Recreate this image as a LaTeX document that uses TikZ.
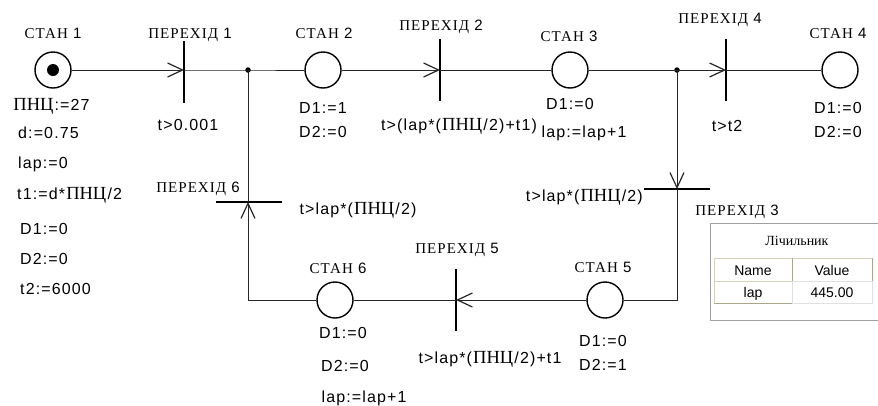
\documentclass[tikz,border=0pt]{standalone}
\usepackage{fontspec}
\setmainfont{Liberation Sans}
\newfontfamily\sansls[LetterSpace=7]{Liberation Sans}
\newfontfamily\serifls[LetterSpace=7]{Liberation Serif}
\newfontfamily\serifpl{Liberation Serif}
\usetikzlibrary{arrows.meta}
\newcommand\exf{\sansls\fontsize{16}{18}\selectfont}
\newcommand\pnc{\hspace{1.2pt}{\serifpl\fontsize{18.5}{19}\selectfont ПНЦ}\hspace{1.2pt}}
\newcommand\lbltxt[2]{{\serifls\fontsize{15}{17}\selectfont #1}{\sansls\fontsize{15}{17}\selectfont\ #2}}
\definecolor{tbeige}{RGB}{214,210,190}
\definecolor{tdark}{RGB}{170,165,140}
\definecolor{tgray}{RGB}{160,160,160}
\begin{document}
\begin{tikzpicture}[x=1pt,y=-1pt,
  place/.style={circle,draw,line width=1.4pt,minimum size=36pt,inner sep=0pt},
  vbar/.style={rectangle,fill=black,minimum width=2.4pt,minimum height=62pt,inner sep=0pt},
  hbar/.style={rectangle,fill=black,minimum width=66pt,minimum height=2.4pt,inner sep=0pt},
  jdot/.style={circle,fill=black,minimum size=5.5pt,inner sep=0pt},
  arc/.style={draw=black!85,line width=0.9pt},
  tipd/.style={-{Straight Barb[length=15pt,width=14pt,line width=1.2pt]}},
  txt/.style={inner sep=0pt,anchor=base,font=\exf},
  txtl/.style={inner sep=0pt,anchor=base west,font=\exf},
  lab/.style={inner sep=0pt,anchor=base}]
\useasboundingbox[fill=white] (0,0) rectangle (878,405);
% places
\node[place] (s1) at (53,70) {};
\node[circle,fill=black,minimum size=12pt,inner sep=0pt] (s1dot) at (s1) {};
\node[place] (s2) at (323,70) {};
\node[place] (s3) at (570,70) {};
\node[place] (s4) at (840,70) {};
\node[place] (s5) at (605,300) {};
\node[place] (s6) at (335,300) {};
% transitions
\node[vbar] (t1) at (184,72) {};
\node[vbar] (t2) at (440,70) {};
\node[vbar] (t4) at (726,70) {};
\node[vbar] (t5) at (456,300) {};
\node[hbar] (t6) at (249,202) {};
\node[hbar] (t3) at (677,189) {};
% junctions
\node[jdot] (j1) at (248,70) {};
\node[jdot] (j2) at (677,70) {};
\coordinate (c6) at (248,300);
\coordinate (c5) at (677,300);
% connectors
\draw[arc,tipd] (s1) -- (t1.center |- s1);
\draw[arc] (t1.center |- s1) -- (j1.center) -- (s2);
\draw[arc,tipd] (s2) -- (t2.center);
\draw[arc] (t2.center) -- (s3);
\draw[arc] (s3) -- (j2.center);
\draw[arc,tipd] (j2.center) -- (t4.center);
\draw[arc] (t4.center) -- (s4);
\draw[arc,tipd] (j2.center) -- (t3.center -| j2);
\draw[arc] (t3.center -| j2) -- (c5) -- (s5);
\draw[arc,tipd] (s5) -- (t5.center);
\draw[arc] (t5.center) -- (s6);
\draw[arc,tipd] (s6) -- (c6) -- (t6.center -| j1);
\draw[arc] (t6.center -| j1) -- (j1.center);
% labels
\node[lab] (ls1) at (53,38) {\lbltxt{СТАН}{1}};
\node[lab] (lt1) at (190,38) {\lbltxt{ПЕРЕХІД}{1}};
\node[lab] (ls2) at (324,38) {\lbltxt{СТАН}{2}};
\node[lab] (lt2) at (441,30) {\lbltxt{ПЕРЕХІД}{2}};
\node[lab] (ls3) at (569,41) {\lbltxt{СТАН}{3}};
\node[lab] (lt4) at (720,23) {\lbltxt{ПЕРЕХІД}{4}};
\node[lab] (ls4) at (838,38) {\lbltxt{СТАН}{4}};
\node[lab] (lt6) at (198,192) {\lbltxt{ПЕРЕХІД}{6}};
\node[lab] (lt3) at (737,215) {\lbltxt{ПЕРЕХІД}{3}};
\node[lab] (lt5) at (457,253) {\lbltxt{ПЕРЕХІД}{5}};
\node[lab] (ls6) at (338,273) {\lbltxt{СТАН}{6}};
\node[lab] (ls5) at (603,272) {\lbltxt{СТАН}{5}};
% initial values
\node[txtl] (i1) at (12,110) {\pnc:=27};
\node[txtl] (i2) at (18,138) {d:=0.75};
\node[txtl] (i3) at (18,168) {lap:=0};
\node[txtl] (i4) at (17,199) {t1:=d*\pnc/2};
\node[txtl] (i5) at (20,234) {D1:=0};
\node[txtl] (i6) at (20,264) {D2:=0};
\node[txtl] (i7) at (20,294) {t2:=6000};
% guards and actions
\node[txt] (g1) at (188,130) {t>0.001};
\node[txt] (a21) at (323,113) {D1:=1};
\node[txt] (a22) at (323,137) {D2:=0};
\node[txt] (g2) at (459,130) {t>(lap*(\pnc/2)+t1)};
\node[txt] (a31) at (570,109) {D1:=0};
\node[txt] (a32) at (584,137) {lap:=lap+1};
\node[txt] (g4) at (727,131) {t>t2};
\node[txt] (a41) at (838,113) {D1:=0};
\node[txt] (a42) at (838,137) {D2:=0};
\node[txt] (g6) at (358,214) {t>lap*(\pnc/2)};
\node[inner sep=0pt,anchor=base east,font=\exf] (g3) at (643,201) {t>lap*(\pnc/2)};
\node[txt] (g5) at (490,363) {t>lap*(\pnc/2)+t1};
\node[txt] (a61) at (343,338) {D1:=0};
\node[txt] (a62) at (345,371) {D2:=0};
\node[txt] (a63) at (364,402) {lap:=lap+1};
\node[txt] (a51) at (603,346) {D1:=0};
\node[txt] (a52) at (603,370) {D2:=1};
% counter table
\draw[tgray,line width=0.9pt] (879,223) -- (710,223) -- (710,320) -- (879,320);
\node[inner sep=0pt,anchor=base] (ttl) at (797,245) {\serifpl\fontsize{14}{15}\selectfont Лічильник};
\draw[tbeige,line width=0.8pt] (714,258) rectangle (792,281);
\draw[tbeige,line width=0.8pt] (792,258) rectangle (872,281);
\draw[tdark,line width=0.8pt] (714,281) -- (872,281);
\draw[tdark,line width=0.8pt] (792,258) -- (792,281);
\draw[tdark,line width=0.8pt] (872,258) -- (872,281);
\draw[tbeige,line width=0.8pt] (714,281) rectangle (792,303);
\draw[black!12,line width=0.8pt] (792,281) rectangle (872,303);
\draw[tdark,line width=0.8pt] (714,303) -- (792,303);
\node[inner sep=0pt,anchor=base,font=\fontsize{14}{15}\selectfont] (thn) at (753,275) {Name};
\node[inner sep=0pt,anchor=base,font=\fontsize{14}{15}\selectfont] (thv) at (832,275) {Value};
\node[inner sep=0pt,anchor=base,font=\fontsize{14}{15}\selectfont] (tcn) at (753,297) {lap};
\node[inner sep=0pt,anchor=base,font=\fontsize{14}{15}\selectfont] (tcv) at (832,297) {445.00};
\end{tikzpicture}
\end{document}
